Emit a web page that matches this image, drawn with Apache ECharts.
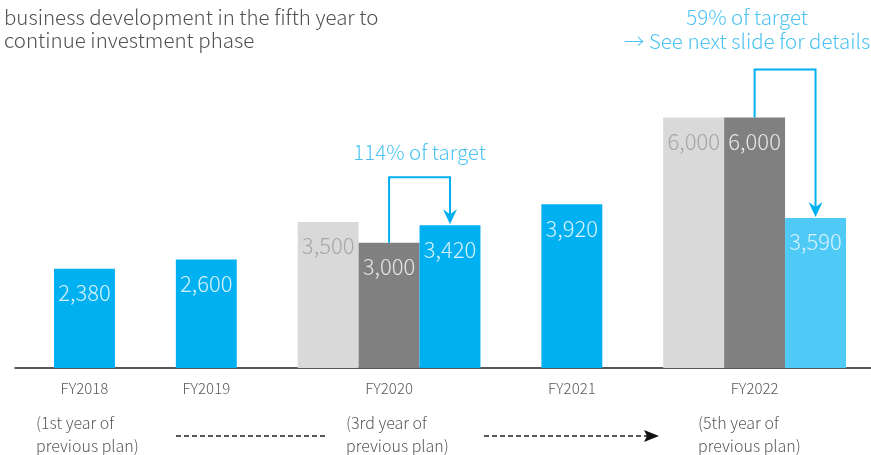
<!DOCTYPE html>
<html>
<head>
<meta charset="utf-8">
<script src="https://cdn.jsdelivr.net/npm/echarts@6/dist/echarts.min.js"></script>
<style>
html,body{margin:0;padding:0;background:#fff;}
#c{width:871px;height:455px;}
</style>
</head>
<body>
<div id="c"></div>
<script>
// ---- data ----
const categories = ['FY2018', 'FY2019', 'FY2020', 'FY2021', 'FY2022'];
const planOriginal = [null, null, 3500, null, 6000];   // light grey
const planRevised  = [null, null, 3000, null, 6000];   // dark grey
const actual       = [2380, 2600, 3420, 3920, 3590];    // blue
const actualIsForecast = [false, false, false, false, true];
const targetNotes = ['', '', '114% of target', '', '59% of target\n→ See next slide for details'];
const planNotes = ['(1st year of\nprevious plan)', '', '(3rd year of\nprevious plan)', '', '(5th year of\nprevious plan)'];
const titleText = 'business development in the fifth year to\ncontinue investment phase';

// ---- build slot layout (one slot per bar, one empty slot between years) ----
const FONT = "'Noto Sans CJK JP Light', 'Noto Sans CJK JP', 'Noto Sans', sans-serif";
const slotLabels = [];
const sOrig = [], sRev = [], sAct = [];
const annotations = [];
categories.forEach((c, i) => {
  if (i > 0) { slotLabels.push(''); sOrig.push('-'); sRev.push('-'); sAct.push('-'); }
  const hasPlan = planOriginal[i] != null;
  if (hasPlan) {
    const base = slotLabels.length;
    slotLabels.push('', c, '');
    sOrig.push(planOriginal[i], '-', '-');
    sRev.push('-', planRevised[i], '-');
    sAct.push('-', '-', {value: actual[i], forecast: actualIsForecast[i]});
    if (targetNotes[i]) annotations.push({idx: i, value: [base + 1, planRevised[i], base + 2, actual[i]]});
  } else {
    slotLabels.push(c);
    sOrig.push('-'); sRev.push('-');
    sAct.push({value: actual[i], forecast: actualIsForecast[i]});
  }
});
const sActData = sAct.map(d => d === '-' ? '-' : {
  value: d.value,
  itemStyle: {color: d.forecast ? '#4FC9F5' : '#00B0F0'}
});

const fmt = p => Number(p.value).toLocaleString('en-US');
const labelBase = {show: true, position: 'insideTop', distance: 11, fontFamily: FONT, fontWeight: 300, fontSize: 22, lineHeight: 26, formatter: fmt};

const noteStyle = [{dx: 0, gap: 13}, {dx: -38, gap: 16}];

const chart = echarts.init(document.getElementById('c'), null, {renderer: 'canvas'});
chart.setOption({
  animation: false,
  backgroundColor: '#ffffff',
  title: {
    text: titleText, left: -1, top: 1,
    textStyle: {fontFamily: FONT, fontWeight: 300, fontSize: 20.5, lineHeight: 23, color: '#505050'}
  },
  grid: [
    {left: 54, right: 25, top: 34, bottom: 87},
    {left: 15, right: 0, top: 34, bottom: 87}
  ],
  xAxis: [
    {
      type: 'category', gridIndex: 0, data: slotLabels,
      axisLine: {show: false}, axisTick: {show: false},
      axisLabel: {interval: 0, margin: 13, fontFamily: FONT, fontWeight: 300, fontSize: 15, color: '#595959'}
    },
    {
      type: 'category', gridIndex: 1, data: [''],
      axisLine: {show: true, lineStyle: {color: '#222', width: 1.5}},
      axisTick: {show: false}, axisLabel: {show: false}
    }
  ],
  yAxis: [
    {type: 'value', gridIndex: 0, min: 0, max: 8000, show: false, splitLine: {show: false}},
    {type: 'value', gridIndex: 1, min: 0, max: 8000, show: false, splitLine: {show: false}}
  ],
  series: [
    {
      type: 'bar', name: 'initial plan', data: sOrig, barCategoryGap: '0%', barGap: '-100%',
      itemStyle: {color: '#D9D9D9'},
      label: Object.assign({}, labelBase, {color: '#A6A6A6'})
    },
    {
      type: 'bar', name: 'revised plan', data: sRev, barCategoryGap: '0%', barGap: '-100%',
      itemStyle: {color: '#808080'},
      label: Object.assign({}, labelBase, {color: '#E6E6E6'})
    },
    {
      type: 'bar', name: 'actual', data: sActData, barCategoryGap: '0%', barGap: '-100%',
      label: Object.assign({}, labelBase, {color: '#D6F3FD'})
    },
    {
      type: 'custom', name: 'target notes', xAxisIndex: 0, yAxisIndex: 0, clip: false, z: 5,
      data: annotations.map(a => a.value),
      renderItem: function (params, api) {
        const a = annotations[params.dataIndex];
        const st = noteStyle[params.dataIndex] || {dx: 0, gap: 13};
        const p1 = api.coord([api.value(0), api.value(1)]);
        const p2 = api.coord([api.value(2), api.value(3)]);
        const topY = Math.min(p1[1], p2[1]) - 48;
        const col = '#00B0F0';
        const tipY = p2[1] - 1;
        return {
          type: 'group',
          children: [
            {type: 'polyline', shape: {points: [[p1[0], p1[1]], [p1[0], topY], [p2[0], topY], [p2[0], tipY - 9]]},
             style: {stroke: col, lineWidth: 2, fill: null}},
            {type: 'polygon', shape: {points: [[p2[0], tipY], [p2[0] - 7, tipY - 15], [p2[0], tipY - 10], [p2[0] + 7, tipY - 15]]},
             style: {fill: col}},
            {type: 'text', x: (p1[0] + p2[0]) / 2 + st.dx, y: topY - st.gap,
             style: {text: targetNotes[a.idx], fill: '#4CC3F2', font: '300 20.5px ' + FONT, textAlign: 'center', textVerticalAlign: 'bottom', lineHeight: 24}}
          ]
        };
      }
    }
  ],
  graphic: [
    {type: 'text', left: 36, top: 411, style: {text: planNotes[0], font: '300 16px ' + FONT, fill: '#595959', lineHeight: 23}},
    {type: 'text', left: 346, top: 411, style: {text: planNotes[2], font: '300 16px ' + FONT, fill: '#595959', lineHeight: 23}},
    {type: 'text', left: 698, top: 411, style: {text: planNotes[4], font: '300 16px ' + FONT, fill: '#595959', lineHeight: 23}},
    {type: 'line', shape: {x1: 176, y1: 436, x2: 328, y2: 436}, style: {stroke: '#222', lineWidth: 1.3, lineDash: [5, 3]}},
    {type: 'line', shape: {x1: 484, y1: 436, x2: 647, y2: 436}, style: {stroke: '#222', lineWidth: 1.3, lineDash: [5, 3]}},
    {type: 'polygon', shape: {points: [[659, 436], [644, 430], [647, 436], [644, 442]]}, style: {fill: '#111'}}
  ]
});
</script>
</body>
</html>
